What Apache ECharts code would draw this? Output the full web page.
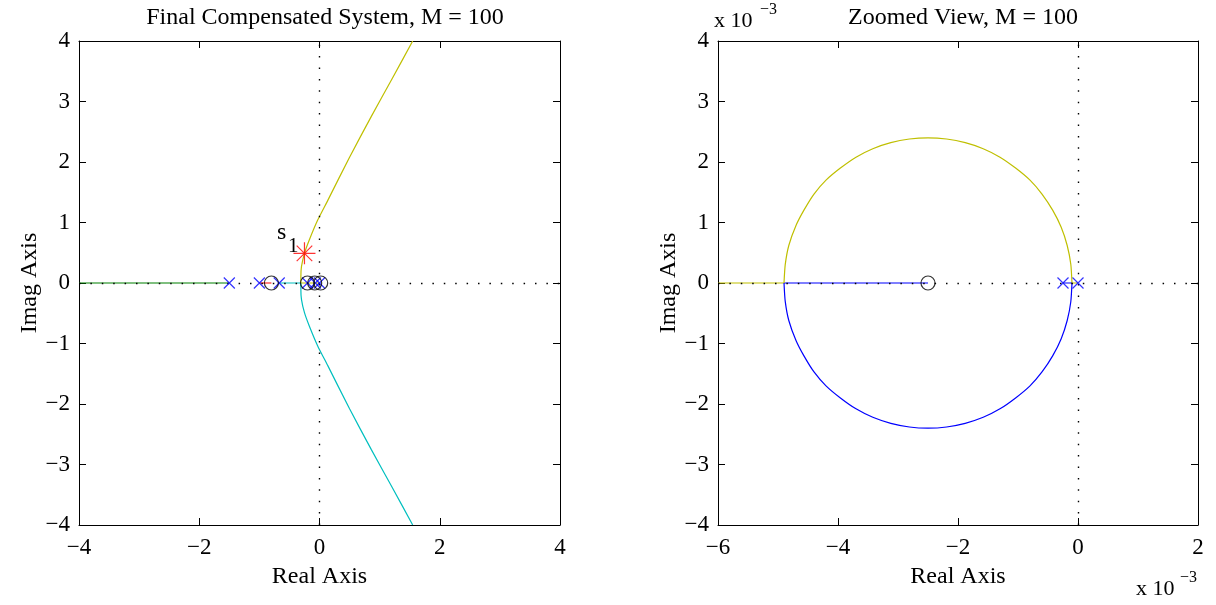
<!DOCTYPE html>
<html>
<head>
<meta charset="utf-8">
<script src="https://cdn.jsdelivr.net/npm/echarts@6/dist/echarts.min.js"></script>
<style>
html,body{margin:0;padding:0;background:#fff;}
#chart{width:1216px;height:605px;}
</style>
</head>
<body>
<div id="chart"></div>
<script>
// ---------- Left panel: Final Compensated System, M = 100 ----------
const titleLeft = 'Final Compensated System, M = 100';
const xTicksLeft = [-4, -2, 0, 2, 4];
const yTicks = [-4, -3, -2, -1, 0, 1, 2, 3, 4];
const greenAxisL = [[-4, 0], [-1.5, 0]];
const redAxisL = [[-1.0, 0], [-0.8, 0]];
const cyanAxisL = [[-0.67, 0], [-0.31, 0]];
const yellowAxisL = [[0, 0], [-0.31, 0]];
const yellowBranchL = [[-0.31, 0], [-0.31, 0.1], [-0.30, 0.27], [-0.25, 0.49], [-0.17, 0.71], [-0.03, 1.04], [0.14, 1.37], [0.5, 2.08], [0.86, 2.75], [1.21, 3.38], [1.55, 4.0]];
const cyanBranchL = [[-0.31, 0], [-0.31, -0.1], [-0.30, -0.27], [-0.25, -0.49], [-0.17, -0.71], [-0.03, -1.04], [0.14, -1.37], [0.5, -2.08], [0.86, -2.75], [1.21, -3.38], [1.55, -4.0]];
const polesL = [[-1.5, 0], [-1.0, 0], [-0.67, 0], [-0.2, 0], [-0.07, 0], [0, 0]];
const zerosL = [[-0.8, 0], [-0.2, 0], [-0.08, 0], [0.02, 0]];
const s1Point = [[-0.25, 0.49]];

// ---------- Right panel: Zoomed View, M = 100 (units of 1e-3) ----------
const titleRight = 'Zoomed View, M = 100';
const xTicksRight = [-6, -4, -2, 0, 2];
const yellowAxisR = [[-6, 0], [-4.9, 0]];
const blueAxisR = [[-4.9, 0], [-2.5, 0]];
const yellowArcR = [[-4.9, 0], [-4.88, 0.3], [-4.82, 0.62], [-4.7, 0.95], [-4.57, 1.2], [-4.4, 1.47], [-4.2, 1.7], [-3.96, 1.9], [-3.7, 2.08], [-3.42, 2.22], [-3.12, 2.32], [-2.81, 2.38], [-2.5, 2.4], [-2.19, 2.38], [-1.88, 2.32], [-1.58, 2.22], [-1.3, 2.08], [-1.04, 1.9], [-0.8, 1.7], [-0.6, 1.47], [-0.42, 1.2], [-0.28, 0.92], [-0.18, 0.62], [-0.12, 0.31], [-0.1, 0]];
const blueArcR = [[-4.9, 0], [-4.88, -0.3], [-4.82, -0.62], [-4.7, -0.95], [-4.57, -1.2], [-4.4, -1.47], [-4.2, -1.7], [-3.96, -1.9], [-3.7, -2.08], [-3.42, -2.22], [-3.12, -2.32], [-2.81, -2.38], [-2.5, -2.4], [-2.19, -2.38], [-1.88, -2.32], [-1.58, -2.22], [-1.3, -2.08], [-1.04, -1.9], [-0.8, -1.7], [-0.6, -1.47], [-0.42, -1.2], [-0.28, -0.92], [-0.18, -0.62], [-0.12, -0.31], [-0.1, 0]];
const yellowPoleSegR = [[0, 0], [-0.1, 0]];
const bluePoleSegR = [[-0.25, 0], [-0.1, 0]];
const polesR = [[-0.25, 0], [0, 0]];
const zerosR = [[-2.5, 0]];

// ---------- styling ----------
const FONT = 'Liberation Serif';
const C_YEL = '#bfbf00', C_CYA = '#00bfbf', C_GRN = '#008000', C_RED = '#ff0000', C_BLU = '#0000ff';
const minus = v => String(v).replace('-', '\u2212');
const xSym = 'path://M0,0L10,10M10,0L0,10';
const starSym = 'path://M0,-10L0,10M-10,0L10,0M-7.07,-7.07L7.07,7.07M-7.07,7.07L7.07,-7.07';

function xAx(grid, pos, ticks, show) {
  return {
    type: 'value', gridIndex: grid, position: pos,
    min: ticks[0], max: ticks[ticks.length - 1], interval: ticks[1] - ticks[0],
    axisLine: {show: true, onZero: false, lineStyle: {color: '#000', width: 1}},
    axisTick: {show: true, inside: true, length: 7, lineStyle: {color: '#000'}},
    axisLabel: {show: show, formatter: minus, color: '#000', fontFamily: FONT, fontSize: 23, margin: 11},
    splitLine: {show: false},
    name: show ? 'Real Axis' : '', nameLocation: 'middle', nameGap: 40,
    nameTextStyle: {color: '#000', fontFamily: FONT, fontSize: 24}
  };
}
function yAx(grid, pos, show) {
  return {
    type: 'value', gridIndex: grid, position: pos,
    min: yTicks[0], max: yTicks[yTicks.length - 1], interval: yTicks[1] - yTicks[0],
    axisLine: {show: true, onZero: false, lineStyle: {color: '#000', width: 1}},
    axisTick: {show: true, inside: true, length: 7, lineStyle: {color: '#000'}},
    axisLabel: {show: show, formatter: minus, color: '#000', fontFamily: FONT, fontSize: 23, margin: 9},
    splitLine: {show: false},
    name: show ? 'Imag Axis' : '', nameLocation: 'middle', nameGap: 36, nameRotate: 90,
    nameTextStyle: {color: '#000', fontFamily: FONT, fontSize: 24}
  };
}
function line(xi, yi, data, color, smooth) {
  return {type: 'line', xAxisIndex: xi, yAxisIndex: yi, data: data, showSymbol: false, symbol: 'none',
    smooth: smooth || false, lineStyle: {color: color, width: 1.2}, silent: true, z: 3};
}
function marks(xi, yi, data, symbol, size, color, width) {
  return {type: 'scatter', xAxisIndex: xi, yAxisIndex: yi, data: data, symbol: symbol, symbolSize: size,
    symbolKeepAspect: true, itemStyle: {color: 'none', borderColor: color, borderWidth: width}, silent: true, z: 6};
}
function refLines(xi, yi) {
  return {type: 'line', xAxisIndex: xi, yAxisIndex: yi, data: [], silent: true, z: 5,
    markLine: {silent: true, symbol: ['none', 'none'], label: {show: false}, animation: false,
      lineStyle: {color: '#000', type: [1.5, 9.9], width: 1.4},
      data: [{xAxis: 0}, {yAxis: 0}]}};
}

const chart = echarts.init(document.getElementById('chart'));
chart.setOption({
  animation: false,
  backgroundColor: '#fff',
  title: [
    {text: titleLeft, left: 320, top: 1, textAlign: 'center',
      textStyle: {fontFamily: FONT, fontSize: 24, fontWeight: 'normal', color: '#000'}},
    {text: titleRight, left: 958, top: 1, textAlign: 'center',
      textStyle: {fontFamily: FONT, fontSize: 24, fontWeight: 'normal', color: '#000'}}
  ],
  grid: [
    {left: 79, top: 41, width: 481, height: 484},
    {left: 718, top: 41, width: 480, height: 484}
  ],
  xAxis: [xAx(0, 'bottom', xTicksLeft, true), xAx(0, 'top', xTicksLeft, false),
          xAx(1, 'bottom', xTicksRight, true), xAx(1, 'top', xTicksRight, false)],
  yAxis: [yAx(0, 'left', true), yAx(0, 'right', false), yAx(1, 'left', true), yAx(1, 'right', false)],
  series: [
    refLines(0, 0),
    line(0, 0, greenAxisL, C_GRN),
    line(0, 0, redAxisL, C_RED),
    line(0, 0, cyanAxisL, C_CYA),
    line(0, 0, yellowAxisL, C_YEL),
    line(0, 0, yellowBranchL, C_YEL, 0.2),
    line(0, 0, cyanBranchL, C_CYA, 0.2),
    marks(0, 0, polesL, xSym, 11, C_BLU, 1.2),
    marks(0, 0, zerosL, 'circle', 14, '#000', 1.2),
    marks(0, 0, s1Point, starSym, 22, C_RED, 1.2),
    refLines(2, 2),
    line(2, 2, yellowAxisR, C_YEL),
    line(2, 2, blueAxisR, C_BLU),
    line(2, 2, yellowArcR, C_YEL, 0.2),
    line(2, 2, blueArcR, C_BLU, 0.2),
    line(2, 2, yellowPoleSegR, C_YEL),
    line(2, 2, bluePoleSegR, C_BLU),
    marks(2, 2, polesR, xSym, 11, C_BLU, 1.2),
    marks(2, 2, zerosR, 'circle', 14, '#000', 1.2)
  ],
  graphic: [
    {type: 'text', left: 277, top: 221, style: {text: 's', font: '24px "Liberation Serif"', fill: '#000'}},
    {type: 'text', left: 288, top: 236, style: {text: '1', font: '21px "Liberation Serif"', fill: '#000'}},
    {type: 'text', left: 714, top: 10, style: {text: 'x 10', font: '22px "Liberation Serif"', fill: '#000'}},
    {type: 'text', left: 760, top: 2, style: {text: '\u22123', font: '16px "Liberation Serif"', fill: '#000'}},
    {type: 'text', left: 1136, top: 578, style: {text: 'x 10', font: '22px "Liberation Serif"', fill: '#000'}},
    {type: 'text', left: 1180, top: 570, style: {text: '\u22123', font: '16px "Liberation Serif"', fill: '#000'}}
  ]
});
</script>
</body>
</html>
